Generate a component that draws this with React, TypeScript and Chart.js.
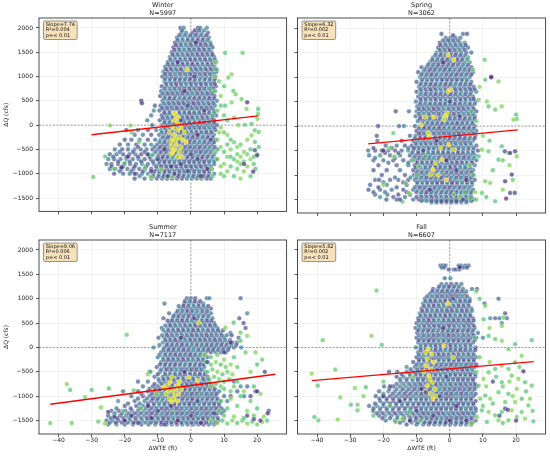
import { useEffect, useRef } from 'react';
import Chart from 'chart.js/auto';

type Row = [number, number[]];
type Pt = [number, number];

// shared axes
const xTicks = [-40, -30, -20, -10, 0, 10, 20];
const yTicks = [-1500, -1000, -500, 0, 500, 1000, 1500, 2000];
const xRange: Pt = [-45.9, 28.9];
const yRange: Pt = [-1775, 2205];

// per-season summary
const seasons = ['Winter', 'Spring', 'Summer', 'Fall'];
const counts = [5997, 3062, 7117, 6607];
const slopes = [7.74, 6.32, 9.06, 5.82];
const intercepts = [35, -210, -780, -437];
const rSquared = ['0.004', '0.002', '0.006', '0.002'];
const pLabels = ['< 0.01', '< 0.01', '< 0.01', '< 0.01'];
const fitSpans: Pt[] = [[-30, 20.3], [-24.6, 20.5], [-42.5, 25.5], [-41.6, 25.3]];

// rows of the dense cloud: [ΔQ, ΔWTE values]
const winterBlue: Row[] = [
  [2000, [-3.2, -2.2, 2.1, 2.8, 4.8]],
  [1900, [-2.9, -1.5, 0.5, 1.8, 3.3, 5.1]],
  [1800, [-4.2, -2.6, -0.9, 0.6, 2.2, 3.8, 5.4]],
  [1700, [-4.8, -3.3, -1.8, -0.3, 1.2, 2.7, 4.2, 5.8]],
  [1600, [-5.3, -3.8, -2.3, -0.8, 0.7, 2.2, 3.7, 5.2, 6.5]],
  [1500, [-5.8, -4.3, -2.8, -1.3, 0.2, 1.7, 3.2, 4.7, 6.2]],
  [1400, [-6.4, -4.9, -3.4, -1.9, -0.4, 1.1, 2.6, 4.1, 5.6, 7]],
  [1300, [-7, -5.6, -4.1, -2.6, -1.1, 0.4, 1.9, 3.4, 4.9, 6.3, 7.6]],
  [1200, [-7.8, -6.3, -4.8, -3.3, -1.8, -0.3, 1.2, 2.7, 4.2, 5.7, 7.1]],
  [1100, [-8.3, -7, -5.5, -4, -2.5, -1, 0.5, 2, 3.5, 5, 6.4, 7.7]],
  [1000, [-8.6, -7.2, -5.8, -4.3, -2.8, -1.3, 0.2, 1.7, 3.2, 4.7, 6.2, 7.4]],
  [900, [-8, -6.5, -5, -3.5, -2, -0.5, 1, 2.5, 4, 5.5, 6.9]],
  [800, [-8.8, -7.3, -5.8, -4.3, -2.8, -1.3, 0.2, 1.7, 3.2, 4.7, 6.2, 7.5]],
  [700, [-9, -7.5, -6, -4.5, -3, -1.5, 0, 1.5, 3, 4.5, 6, 7.3]],
  [600, [-9.3, -7.8, -6.3, -4.8, -3.3, -1.8, -0.3, 1.2, 2.7, 4.2, 5.7, 7.1]],
  [500, [-8.6, -7.1, -5.6, -4.1, -2.6, -1.1, 0.4, 1.9, 3.4, 4.9, 6.4, 7.8]],
  [400, [-10.9, -9.2, -7.7, -6.2, -4.7, -3.2, -1.7, -0.2, 1.3, 2.8, 4.3, 5.8, 7.2]],
  [300, [-11.2, -9.5, -8, -6.5, -5, -3.5, -2, -0.5, 1, 2.5, 4, 5.5, 7]],
  [200, [-12, -8.8, -7.3, -5.8, -4.3, -2.8, -1.3, 0.2, 1.7, 3.2, 4.7, 6.2, 7.6]],
  [100, [-13.2, -9.4, -7.9, -6.4, -4.9, -3.4, -1.9, -0.4, 1.1, 2.6, 4.1, 5.6, 7]],
  [0, [-11.7, -8.7, -7.2, -5.7, -4.2, -2.7, -1.2, 0.3, 1.8, 3.3, 4.8, 6.3, 7.8]],
  [-100, [-19.5, -16, -13, -10.5, -9, -7.5, -6, -4.5, -3, -1.5, 0, 1.5, 3, 4.5, 6, 7.4]],
  [-200, [-17, -14.5, -12, -9.6, -8.1, -6.6, -5.1, -3.6, -2.1, -0.6, 0.9, 2.4, 3.9, 5.4, 6.9]],
  [-300, [-20, -18, -15.5, -13, -10.8, -9.2, -7.7, -6.2, -4.7, -3.2, -1.7, -0.2, 1.3, 2.8, 4.3, 5.8, 7.3]],
  [-400, [-21.5, -19, -16.5, -14, -12, -10.2, -8.6, -7.1, -5.6, -4.1, -2.6, -1.1, 0.4, 1.9, 3.4, 4.9, 6.4]],
  [-500, [-23, -20.8, -19, -17, -15.2, -13.4, -11.6, -9.9, -8.3, -6.8, -5.3, -3.8, -2.3, -0.8, 0.7, 2.2, 3.7, 5.2, 6.7, 8]],
  [-600, [-24.5, -22.5, -20.5, -18.6, -16.8, -15, -13.2, -11.4, -9.6, -8, -6.5, -5, -3.5, -2, -0.5, 1, 2.5, 4, 5.5, 7]],
  [-700, [-25, -23.2, -21.3, -19.5, -17.6, -15.8, -14, -12.2, -10.4, -8.8, -7.3, -5.8, -4.3, -2.8, -1.3, 0.2, 1.7, 3.2, 4.7, 6.2, 7.6]],
  [-800, [-25.5, -24, -22, -20.2, -18.4, -16.6, -14.8, -13, -11.2, -9.6, -8, -6.5, -5, -3.5, -2, -0.5, 1, 2.5, 4, 5.5, 7]],
  [-900, [-24.5, -22.8, -21, -19.2, -17.4, -15.6, -13.8, -12, -10.3, -8.7, -7.2, -5.7, -4.2, -2.7, -1.2, 0.3, 1.8, 3.3, 4.8, 6.3]],
  [-1000, [-23.2, -20.5, -18.5, -16.5, -14.8, -13, -11.3, -9.6, -8, -6.5, -5, -3.5, -2, -0.5, 1, 2.5, 4, 5.5, 7]],
  [-1100, [-17, -14, -12, -10.3, -8.7, -7.2, -5.7, -4.2, -2.7, -1.2, 0.3, 1.8, 3.3, 4.8, 6]],
];
const winterFill: Row[] = [
  [1950, [-2.7, 1.2, 2.5, 4]],
  [1850, [-3.5, -1.8, -0.2, 1.4, 3, 4.6]],
  [1750, [-4, -2.5, -1, 0.5, 2, 3.5, 5]],
  [1650, [-4.5, -3, -1.5, 0, 1.5, 3, 4.5, 6]],
  [1550, [-5, -3.5, -2, -0.5, 1, 2.5, 4, 5.5]],
  [1450, [-5.5, -4, -2.5, -1, 0.5, 2, 3.5, 5, 6.5]],
  [1350, [-6.2, -4.7, -3.2, -1.7, -0.2, 1.3, 2.8, 4.3, 5.8, 7.2]],
  [1250, [-7, -5.5, -4, -2.5, -1, 0.5, 2, 3.5, 5, 6.5]],
  [1150, [-7.5, -6, -4.5, -3, -1.5, 0, 1.5, 3, 4.5, 6, 7.3]],
  [1050, [-7.8, -6.3, -4.8, -3.3, -1.8, -0.3, 1.2, 2.7, 4.2, 5.7, 7]],
  [950, [-7.8, -6.3, -4.8, -3.3, -1.8, -0.3, 1.2, 2.7, 4.2, 5.7, 7.2]],
  [850, [-7.5, -6, -4.5, -3, -1.5, 0, 1.5, 3, 4.5, 6, 7.2]],
  [750, [-8, -6.5, -5, -3.5, -2, -0.5, 1, 2.5, 4, 5.5, 6.8]],
  [650, [-8.5, -7, -5.5, -4, -2.5, -1, 0.5, 2, 3.5, 5, 6.5]],
  [550, [-8, -6.5, -5, -3.5, -2, -0.5, 1, 2.5, 4, 5.5, 7]],
  [450, [-8.2, -6.7, -5.2, -3.7, -2.2, -0.7, 0.8, 2.3, 3.8, 5.3, 6.8]],
  [350, [-8.7, -7.2, -5.7, -4.2, -2.7, -1.2, 0.3, 1.8, 3.3, 4.8, 6.3]],
  [250, [-8, -6.5, -5, -3.5, -2, -0.5, 1, 2.5, 4, 5.5, 7]],
  [150, [-8.5, -7, -5.5, -4, -2.5, -1, 0.5, 2, 3.5, 5, 6.5]],
  [50, [-8, -6.5, -5, -3.5, -2, -0.5, 1, 2.5, 4, 5.5, 7]],
  [-50, [-8, -6.5, -5, -3.5, -2, -0.5, 1, 2.5, 4, 5.5, 7]],
  [-150, [-8.8, -7.3, -5.8, -4.3, -2.8, -1.3, 0.2, 1.7, 3.2, 4.7, 6.2]],
  [-250, [-8.5, -7, -5.5, -4, -2.5, -1, 0.5, 2, 3.5, 5, 6.5]],
  [-350, [-9.5, -8, -6.5, -5, -3.5, -2, -0.5, 1, 2.5, 4, 5.5, 7]],
  [-450, [-16, -11, -9.3, -7.8, -6.3, -4.8, -3.3, -1.8, -0.3, 1.2, 2.7, 4.2, 5.7, 7.2]],
  [-550, [-21.5, -17.5, -14, -10.7, -9, -7.5, -6, -4.5, -3, -1.5, 0, 1.5, 3, 4.5, 6]],
  [-650, [-23.5, -19.5, -16, -12.5, -10, -8.5, -7, -5.5, -4, -2.5, -1, 0.5, 2, 3.5, 5, 6.5]],
  [-750, [-22, -18.5, -15, -11.5, -9.5, -8, -6.5, -5, -3.5, -2, -0.5, 1, 2.5, 4, 5.5, 7]],
  [-850, [-24, -20.5, -17, -13.5, -10.5, -9, -7.5, -6, -4.5, -3, -1.5, 0, 1.5, 3, 4.5, 6]],
  [-950, [-21.5, -18, -14.5, -11, -9.5, -8, -6.5, -5, -3.5, -2, -0.5, 1, 2.5, 4, 5.5]],
  [-1050, [-15.5, -11.5, -9.8, -8.3, -6.8, -5.3, -3.8, -2.3, -0.8, 0.7, 2.2, 3.7, 5.2]],
];
const winterDark: Pt[] = [
  [-15, 500], [-14.8, 450], [17, 470], [19.3, -516], [18.8, -957], [20, -620], [-21, -870], [-17, -1000],
  [-12, -950], [-5, -1000], [-3, -800], [2, -700], [-6, -850], [-10, -700], [3, -1050], [-1, -950],
  [5, -900], [1, 1000], [-2, 700], [4, 300], [-4, 1300], [0, -600], [-8, -500], [6, -300], [16, -800],
  [-7, -1050], [-19, -650], [-13, -600], [1.5, 1700], [-1, 400], [2, -200], [-3, 100],
];
const winterGreen: Pt[] = [
  [-29.5, -1066], [-24.4, -7], [-25.9, -645], [-23.2, -903], [-18.2, -7], [-17.9, -150], [-15.7, -346],
  [-12.2, -1059], [-11.7, -618], [-7.2, -1046], [-5.7, -1059], [-20, -780], [-14, -880], [-9, -920],
  [10.3, 1487], [15.6, 1487], [7.3, 1283], [7.8, 1147], [11.3, 978], [12.3, 1045], [12.8, 706], [13.5, 638],
  [12.3, 468], [10.3, 400], [15.3, 536], [16.8, 333], [20.3, 333], [20.3, 230], [20.1, 129], [18.3, 27],
  [16.3, 7], [14.3, 0], [19.3, -109], [20.5, -143], [18.3, -210], [19.3, -346],
  [8, -300], [9, -450], [10, -550], [11, -650], [12, -500], [13, -700], [14, -600], [15, -650], [16, -750],
  [17, -600], [18, -700], [19, -650], [20, -600], [10, -800], [12, -850], [14, -900], [16, -950], [18, -1050],
  [9, -1000], [11, -950], [13, -1050], [15, -800], [17, -850], [19, -800], [8, -700], [9, -850], [11, -400],
  [13, -350], [14, -450], [12, -300], [10, -150], [9, -50], [11, 100], [8, 300], [9, 600], [10, 800],
  [8.5, 900], [7, 1000], [9, 400], [10, 200], [16, -550], [18, -500], [15, -400], [17, -300], [12, -650],
  [10, -1050], [14, -750], [19.5, -900], [7.5, -550], [8.5, -150], [6.5, 200], [7, 700], [6, -900],
  [6.5, -1050], [3, -1100], [15, -1100], [20.5, -450], [13, 150], [11, -200],
];
const winterYellow: Pt[] = [
  [-5, 250], [-4.5, 200], [-5, 100], [-4, 50], [-5.5, -50], [-4, -100], [-5, -200], [-3.5, -250],
  [-5.5, -300], [-6, -350], [-4.5, -400], [-3, -450], [-5, -500], [-6, -600], [-2.5, -300], [-2, -150],
  [-3, -50], [-4, -650], [-5.5, -550], [-3.5, -550], [-1.5, -350], [-6.5, -150], [-1.2, 1147],
  [-4.5, -300], [-3.8, 150], [-6, -450], [-2.8, -650],
];

const springBlue: Row[] = [
  [1880, [-2.5, 4, 5.2]],
  [1800, [-1.2, 0.2, 1.7, 3.2]],
  [1700, [-3, -1.5, 0, 1.5, 3, 4.5]],
  [1600, [-3.5, -2, -0.5, 1, 2.5, 4, 5.5]],
  [1500, [-4, -2.5, -1, 0.5, 2, 3.5, 5, 6.5]],
  [1400, [-5, -3.5, -2, -0.5, 1, 2.5, 4, 5.5]],
  [1300, [-6, -4.5, -3, -1.5, 0, 1.5, 3, 4.5, 6]],
  [1200, [-8.5, -7, -5.5, -4, -2.5, -1, 0.5, 2, 3.5, 5, 6.5]],
  [1100, [-9.5, -8, -6.5, -5, -3.5, -2, -0.5, 1, 2.5, 4, 5.5, 7]],
  [1000, [-9, -7.5, -6, -4.5, -3, -1.5, 0, 1.5, 3, 4.5, 6, 12.5]],
  [900, [-10, -8.5, -7, -5.5, -4, -2.5, -1, 0.5, 2, 3.5, 5, 6.5]],
  [800, [-9.3, -7.8, -6.3, -4.8, -3.3, -1.8, -0.3, 1.2, 2.7, 4.2, 5.7, 7.2]],
  [700, [-10, -8.5, -7, -5.5, -4, -2.5, -1, 0.5, 2, 3.5, 5, 6.5, 8]],
  [600, [-9.5, -8, -6.5, -5, -3.5, -2, -0.5, 1, 2.5, 4, 5.5, 7]],
  [500, [-10.2, -8.7, -7.2, -5.7, -4.2, -2.7, -1.2, 0.3, 1.8, 3.3, 4.8, 6.3, 7.8]],
  [400, [-9.8, -8.3, -6.8, -5.3, -3.8, -2.3, -0.8, 0.7, 2.2, 3.7, 5.2, 6.7]],
  [300, [-16.3, -12.3, -10, -8.5, -7, -5.5, -4, -2.5, -1, 0.5, 2, 3.5, 5, 6.5, 8]],
  [200, [-10.3, -8.8, -7.3, -5.8, -4.3, -2.8, -1.3, 0.2, 1.7, 3.2, 4.7, 6.2, 7.5]],
  [100, [-9.6, -8.1, -6.6, -5.1, -3.6, -2.1, -0.6, 0.9, 2.4, 3.9, 5.4, 6.9]],
  [0, [-21.6, -15.3, -13.8, -10.5, -9, -7.5, -6, -4.5, -3, -1.5, 0, 1.5, 3, 4.5, 6, 7.5]],
  [-100, [-10, -8.5, -7, -5.5, -4, -2.5, -1, 0.5, 2, 3.5, 5, 6.5, 8]],
  [-200, [-22, -12, -10.3, -8.8, -7.3, -5.8, -4.3, -2.8, -1.3, 0.2, 1.7, 3.2, 4.7, 6.2, 7.7]],
  [-300, [-21.8, -14.5, -11, -9.5, -8, -6.5, -5, -3.5, -2, -0.5, 1, 2.5, 4, 5.5, 7]],
  [-400, [-19.3, -16, -13.5, -11.5, -10, -8.5, -7, -5.5, -4, -2.5, -1, 0.5, 2, 3.5, 5, 6.5, 8]],
  [-500, [-24.6, -22.5, -20.5, -18.5, -16.5, -14.5, -12.5, -11, -9.5, -8, -6.5, -5, -3.5, -2, -0.5, 1, 2.5, 4, 5.5, 7, 8.5]],
  [-600, [-24.3, -21, -18, -15, -12, -10.3, -8.8, -7.3, -5.8, -4.3, -2.8, -1.3, 0.2, 1.7, 3.2, 4.7, 6.2, 7.7]],
  [-700, [-23, -20, -17, -14, -11.5, -10, -8.5, -7, -5.5, -4, -2.5, -1, 0.5, 2, 3.5, 5, 6.5, 8]],
  [-800, [-21.5, -16, -12.5, -10.5, -9, -7.5, -6, -4.5, -3, -1.5, 0, 1.5, 3, 4.5, 6, 7.5]],
  [-900, [-23, -19, -15, -11, -9.5, -8, -6.5, -5, -3.5, -2, -0.5, 1, 2.5, 4, 5.5, 7]],
  [-1000, [-20.5, -13.5, -10.8, -9.3, -7.8, -6.3, -4.8, -3.3, -1.8, -0.3, 1.2, 2.7, 4.2, 5.7, 7.2]],
  [-1100, [-22.5, -21.3, -18, -15.5, -12.5, -10.5, -9, -7.5, -6, -4.5, -3, -1.5, 0, 1.5, 3, 4.5, 6, 7.5]],
  [-1200, [-24, -19, -13, -9.8, -8.3, -6.8, -5.3, -3.8, -2.3, -0.8, 0.7, 2.2, 3.7, 5.2, 6.7]],
  [-1300, [-24.5, -21, -17.5, -14, -11, -9.5, -8, -6.5, -5, -3.5, -2, -0.5, 1, 2.5, 4, 5.5, 7]],
  [-1400, [-22.5, -18.8, -15.5, -12, -8.8, -7.3, -5.8, -4.3, -2.8, -1.3, 0.2, 1.7, 3.2, 4.7, 6.2]],
  [-1500, [-19.1, -16, -11, -9.3, -7.8, -6.3, -4.8, -3.3, -1.8, -0.3, 1.2, 2.7, 4.2, 5.7, 7.2]],
  [-1560, [-5.5, -4, -2.5, -1, 0.5, 2, 3.5, 5]],
];
const springFill: Row[] = [
  [1750, [-2, -0.5, 1, 2.5]],
  [1650, [-2.8, -1.2, 0.3, 1.8, 3.3, 4.8]],
  [1550, [-3, -1.5, 0, 1.5, 3, 4.5]],
  [1450, [-4.3, -2.8, -1.3, 0.2, 1.7, 3.2, 4.7]],
  [1350, [-5.3, -3.8, -2.3, -0.8, 0.7, 2.2, 3.7, 5.2]],
  [1250, [-6.5, -5, -3.5, -2, -0.5, 1, 2.5, 4, 5.5]],
  [1150, [-7.5, -6, -4.5, -3, -1.5, 0, 1.5, 3, 4.5, 6]],
  [1050, [-8.5, -7, -5.5, -4, -2.5, -1, 0.5, 2, 3.5, 5, 6.5]],
  [950, [-8.3, -6.8, -5.3, -3.8, -2.3, -0.8, 0.7, 2.2, 3.7, 5.2]],
  [850, [-8.8, -7.3, -5.8, -4.3, -2.8, -1.3, 0.2, 1.7, 3.2, 4.7, 6.2]],
  [750, [-8.8, -7.3, -5.8, -4.3, -2.8, -1.3, 0.2, 1.7, 3.2, 4.7, 6.2, 7.5]],
  [650, [-8.8, -7.3, -5.8, -4.3, -2.8, -1.3, 0.2, 1.7, 3.2, 4.7, 6.2]],
  [550, [-8.8, -7.3, -5.8, -4.3, -2.8, -1.3, 0.2, 1.7, 3.2, 4.7, 6.2, 7.2]],
  [450, [-9, -7.5, -6, -4.5, -3, -1.5, 0, 1.5, 3, 4.5, 6, 7.5]],
  [350, [-9.3, -7.8, -6.3, -4.8, -3.3, -1.8, -0.3, 1.2, 2.7, 4.2, 5.7, 7.2]],
  [250, [-9.3, -7.8, -6.3, -4.8, -3.3, -1.8, -0.3, 1.2, 2.7, 4.2, 5.7, 7]],
  [150, [-9, -7.5, -6, -4.5, -3, -1.5, 0, 1.5, 3, 4.5, 6, 7.5]],
  [50, [-8.3, -6.8, -5.3, -3.8, -2.3, -0.8, 0.7, 2.2, 3.7, 5.2, 6.8]],
  [-50, [-9.3, -7.8, -6.3, -4.8, -3.3, -1.8, -0.3, 1.2, 2.7, 4.2, 5.7, 7.2]],
  [-150, [-9.3, -7.8, -6.3, -4.8, -3.3, -1.8, -0.3, 1.2, 2.7, 4.2, 5.7, 7.2]],
  [-250, [-10.5, -9, -7.5, -6, -4.5, -3, -1.5, 0, 1.5, 3, 4.5, 6, 7.5]],
  [-350, [-10.3, -8.8, -7.3, -5.8, -4.3, -2.8, -1.3, 0.2, 1.7, 3.2, 4.7, 6.2]],
  [-450, [-23, -17.5, -12.5, -10.8, -9.3, -7.8, -6.3, -4.8, -3.3, -1.8, -0.3, 1.2, 2.7, 4.2, 5.7, 7.2]],
  [-550, [-19.5, -15.5, -11.3, -9.5, -8, -6.5, -5, -3.5, -2, -0.5, 1, 2.5, 4, 5.5, 7]],
  [-650, [-22.5, -16.5, -10.8, -9.3, -7.8, -6.3, -4.8, -3.3, -1.8, -0.3, 1.2, 2.7, 4.2, 5.7, 7.2]],
  [-750, [-18.5, -12.5, -9.8, -8.3, -6.8, -5.3, -3.8, -2.3, -0.8, 0.7, 2.2, 3.7, 5.2, 6.7]],
  [-850, [-10.3, -8.8, -7.3, -5.8, -4.3, -2.8, -1.3, 0.2, 1.7, 3.2, 4.7, 6.2]],
  [-950, [-10, -8.5, -7, -5.5, -4, -2.5, -1, 0.5, 2, 3.5, 5, 6.5]],
  [-1050, [-16.5, -11.8, -10, -8.5, -7, -5.5, -4, -2.5, -1, 0.5, 2, 3.5, 5, 6.5]],
  [-1150, [-20, -14, -9.8, -8.3, -6.8, -5.3, -3.8, -2.3, -0.8, 0.7, 2.2, 3.7, 5.2, 6.7]],
  [-1250, [-21.5, -16, -10.5, -9, -7.5, -6, -4.5, -3, -1.5, 0, 1.5, 3, 4.5, 6]],
  [-1350, [-23, -19.5, -13, -10, -8.5, -7, -5.5, -4, -2.5, -1, 0.5, 2, 3.5, 5, 6.5]],
  [-1450, [-21, -17, -13.5, -10, -8.5, -7, -5.5, -4, -2.5, -1, 0.5, 2, 3.5, 5, 6.5]],
  [-1530, [-8.5, -7, -5.5, -4, -2.5, -1, 0.5, 2, 3.5, 5, 6.5]],
];
const springDark: Pt[] = [
  [12.5, 998], [16.6, -516], [18.2, -550], [19.7, -516], [16.7, -1127], [18.2, -1365], [18.7, -991],
  [19.6, -1365], [17, -1480], [1, 1850], [-2, 1300], [0, 500], [-4, -300], [2, -900], [-6, -1300],
  [4, -1500], [-1, -700], [3, 200], [-20, -500], [-15, -1500], [5, -1100], [-8, -500],
];
const springGreen: Pt[] = [
  [10.5, 1351], [14.7, 910], [10.7, 944], [8.7, 536], [11.2, 502], [11.7, 400], [13.7, 333], [15.7, 400],
  [20, 231], [20.2, 143], [19.2, 129], [15.7, -414], [17.7, -550], [20.2, -618], [14.7, -686], [11.7, -516],
  [9.7, -482], [8.7, -618], [10.7, -1127], [12.2, -1161], [13.7, -1535], [9.7, -1365], [7.7, -1351],
  [6.2, -1467], [1.2, -1399], [3, -1450], [4.5, -1350], [-17, -143], [-18.3, -448], [-14.3, -1541],
  [-13.3, -1161], [-12.3, -1365], [-7.3, -618], [-9.3, -822], [-16.8, -618], [5.3, 1365], [7, 1150],
  [9, 800], [6.5, 300], [8, 100], [10, -200], [12, -300], [16, -700], [18, -800], [13, -900], [19, -1100],
  [16, -1300], [11, -1450], [8, -1500], [-20, -1200], [-10, -1000], [-11, -700], [6, -800], [7, -1000],
];
const springYellow: Pt[] = [
  [1.2, 1351], [-0.5, 706], [-1.3, 217], [-1.8, 129], [-4.8, 183], [-7.5, 183], [-8.6, 27], [-6.5, -143],
  [-6.1, -210], [-2.8, -448], [-2.3, -686], [-4.3, -754], [-5.1, -890], [-5.7, -991], [-0.3, -380],
  [1.3, -482], [0.2, 740], [-0.8, 265], [-0.5, 1450], [-3.5, -1000], [-1, -1100],
];

const summerBlue: Row[] = [
  [1010, [-1.2, 0, 1.3, 4.8, 5.6, 15]],
  [900, [-8, -2, -0.6, 0.8, 2.3, 3.7]],
  [800, [-3, -1.5, 0, 1.5, 3, 4.5, 6]],
  [700, [-6.6, -4.5, -3, -1.5, 0, 1.5, 3, 4.5, 6, 17]],
  [600, [-8.3, -5.5, -4, -2.5, -1, 0.5, 2, 3.5, 5, 6.5, 14.6]],
  [500, [-6.5, -5, -3.5, -2, -0.5, 1, 2.5, 4, 5.5, 7, 15.9]],
  [400, [-8.8, -7, -5.5, -4, -2.5, -1, 0.5, 2, 3.5, 5, 6.5, 8, 16.5]],
  [300, [-7.5, -6, -4.5, -3, -1.5, 0, 1.5, 3, 4.5, 6, 7.5, 9, 11.9]],
  [200, [-9.8, -8, -6.5, -5, -3.5, -2, -0.5, 1, 2.5, 4, 5.5, 7, 8.5, 10, 14.4]],
  [100, [-8.5, -7, -5.5, -4, -2.5, -1, 0.5, 2, 3.5, 5, 6.5, 8, 9.5, 11, 12.5, 13.9]],
  [0, [-11.3, -8, -6.5, -5, -3.5, -2, -0.5, 1, 2.5, 4, 5.5, 7, 8.5, 10, 11.5, 13, 15.2]],
  [-100, [-9, -7.5, -6, -4.5, -3, -1.5, 0, 1.5, 3, 4.5, 6, 7.5, 9, 10.5]],
  [-200, [-10, -8.5, -7, -5.5, -4, -2.5, -1, 0.5, 2, 3.5, 5]],
  [-300, [-9, -7.5, -6, -4.5, -3, -1.5, 0, 1.5, 3, 4.5]],
  [-400, [-10.3, -8, -6.5, -5, -3.5, -2, -0.5, 1, 2.5, 4]],
  [-500, [-12.5, -9.3, -7.8, -6.3, -4.8, -3.3, -1.8, -0.3, 1.2, 2.7, 4.2]],
  [-600, [-11, -8.5, -7, -5.5, -4, -2.5, -1, 0.5, 2, 3.5, 5]],
  [-700, [-16, -13, -9.5, -8, -6.5, -5, -3.5, -2, -0.5, 1, 2.5, 4, 5.5, 13]],
  [-800, [-14.5, -11.5, -10, -8.5, -7, -5.5, -4, -2.5, -1, 0.5, 2, 3.5, 5, 6.5, 15, 17]],
  [-900, [-20.5, -16, -13, -11, -9.5, -8, -6.5, -5, -3.5, -2, -0.5, 1, 2.5, 4, 5.5, 7, 8.5, 14, 19.5]],
  [-1000, [-18, -14.5, -12.5, -10.8, -9.3, -7.8, -6.3, -4.8, -3.3, -1.8, -0.3, 1.2, 2.7, 4.2, 5.7, 7.2, 10, 12, 16]],
  [-1100, [-22, -17, -14, -12, -10.3, -8.8, -7.3, -5.8, -4.3, -2.8, -1.3, 0.2, 1.7, 3.2, 4.7, 6.2, 7.7, 9, 11]],
  [-1200, [-20, -16.5, -14.5, -12.8, -11.2, -9.6, -8, -6.5, -5, -3.5, -2, -0.5, 1, 2.5, 4, 5.5, 7, 8.5]],
  [-1300, [-24, -21.8, -19.8, -17.8, -16, -14.3, -12.6, -11, -9.4, -7.9, -6.4, -4.9, -3.4, -1.9, -0.4, 1.1, 2.6, 4.1, 5.6, 7.1, 8.6, 10, 23.5]],
  [-1400, [-25, -23.2, -21.3, -19.5, -17.7, -15.9, -14.1, -12.4, -10.7, -9.1, -7.6, -6.1, -4.6, -3.1, -1.6, -0.1, 1.4, 2.9, 4.4, 5.9, 7.4]],
  [-1500, [-25.5, -23.7, -21.9, -20.1, -18.3, -16.5, -14.7, -13, -11.3, -9.7, -8.2, -6.7, -5.2, -3.7, -2.2, -0.7, 0.8, 2.3, 3.8, 5.3, 6.8, 8.3]],
  [-1580, [-25, -22.5, -20, -17.5, -15, -12.8, -10.8, -9, -7.4, -5.8, -4.2, -2.6, -1, 0.6, 2.2, 3.8, 5.4, 7]],
];
const summerFill: Row[] = [
  [950, [-1.8, -0.3, 1.2, 2.8]],
  [850, [-3.7, -2.3, -0.8, 0.8, 2.3, 3.8, 5.2]],
  [750, [-4, -2.5, -1, 0.5, 2, 3.5, 5]],
  [650, [-5.2, -3.7, -2.2, -0.7, 0.8, 2.3, 3.8, 5.3]],
  [550, [-7, -5.7, -4.2, -2.7, -1.2, 0.3, 1.8, 3.3, 4.8, 6.2]],
  [450, [-7.7, -6.2, -4.7, -3.2, -1.7, -0.2, 1.3, 2.8, 4.3, 5.8, 7.3]],
  [350, [-8.3, -6.8, -5.3, -3.8, -2.3, -0.8, 0.7, 2.2, 3.7, 5.2, 6.7, 8.2, 9.7]],
  [250, [-8.7, -7.2, -5.7, -4.2, -2.7, -1.2, 0.3, 1.8, 3.3, 4.8, 6.3, 7.8, 9.3, 10.8, 12.3]],
  [150, [-7.7, -6.2, -4.7, -3.2, -1.7, -0.2, 1.3, 2.8, 4.3, 5.8, 7.3, 8.8, 10.3, 11.8]],
  [50, [-9.5, -7.3, -5.8, -4.3, -2.8, -1.3, 0.2, 1.7, 3.2, 4.7, 6.2, 7.7, 9.2, 10.7, 12.2, 13.7]],
  [-50, [-8.3, -6.8, -5.3, -3.8, -2.3, -0.8, 0.7, 2.2, 3.7, 5.2, 6.7, 8.2, 9.7, 11.2]],
  [-150, [-9.5, -7.8, -6.3, -4.8, -3.3, -1.8, -0.3, 1.2, 2.7, 4.2]],
  [-250, [-8.3, -6.8, -5.3, -3.8, -2.3, -0.8, 0.7, 2.2, 3.7]],
  [-350, [-9.3, -7.8, -6.3, -4.8, -3.3, -1.8, -0.3, 1.2, 2.7, 3.8]],
  [-450, [-9, -7.3, -5.8, -4.3, -2.8, -1.3, 0.2, 1.7, 3.2]],
  [-550, [-10, -7.8, -6.3, -4.8, -3.3, -1.8, -0.3, 1.2, 2.7, 4.2]],
  [-650, [-9.8, -8.3, -6.8, -5.3, -3.8, -2.3, -0.8, 0.7, 2.2, 3.7, 5]],
  [-750, [-11, -8.8, -7.3, -5.8, -4.3, -2.8, -1.3, 0.2, 1.7, 3.2, 4.7, 6]],
  [-850, [-12.5, -10.8, -9.3, -7.8, -6.3, -4.8, -3.3, -1.8, -0.3, 1.2, 2.7, 4.2, 5.7, 7.2]],
  [-950, [-15, -11.8, -10.2, -8.7, -7.2, -5.7, -4.2, -2.7, -1.2, 0.3, 1.8, 3.3, 4.8, 6.3, 7.8]],
  [-1050, [-16, -13.3, -11.5, -10, -8.5, -7, -5.5, -4, -2.5, -1, 0.5, 2, 3.5, 5, 6.5, 8]],
  [-1150, [-19, -15.5, -13, -11.2, -9.6, -8, -6.5, -5, -3.5, -2, -0.5, 1, 2.5, 4, 5.5, 7, 8.5]],
  [-1250, [-22.5, -18.2, -15.5, -13.6, -12, -10.4, -8.8, -7.3, -5.8, -4.3, -2.8, -1.3, 0.2, 1.7, 3.2, 4.7, 6.2, 7.7, 9.2]],
  [-1350, [-23, -20.8, -18.8, -16.9, -15.1, -13.4, -11.8, -10.2, -8.6, -7.1, -5.6, -4.1, -2.6, -1.1, 0.4, 1.9, 3.4, 4.9, 6.4, 7.9, 9.3]],
  [-1450, [-24.2, -22.3, -20.4, -18.6, -16.8, -15, -13.3, -11.6, -10, -8.4, -6.9, -5.4, -3.9, -2.4, -0.9, 0.6, 2.1, 3.6, 5.1, 6.6, 8.1]],
  [-1540, [-24.5, -22.7, -20.9, -19.1, -17.3, -15.5, -13.8, -12.1, -10.5, -8.9, -7.4, -5.9, -4.4, -2.9, -1.4, 0.1, 1.6, 3.1, 4.6, 6.1, 7.6]],
];
const summerDark: Pt[] = [
  [-25, -1324], [-23.1, -1426], [-20, -1500], [-16, -1550], [-12, -1450], [-8, -1580], [-4, -1500],
  [0, -1400], [3, -1550], [-10, -1300], [-18, -1400], [22.3, -500], [23.2, -1350], [18, -1000], [20, -900],
  [19, -1470], [21, -1500], [17, -1400], [-6, -1200], [2, -1100], [-2, -500], [5, -300], [-3, 200], [1, 600],
  [-13, -1200], [7, -1350], [12, 100], [10, -100],
];
const summerGreen: Pt[] = [
  [-42.5, -1550], [-37.5, -750], [-36.5, -870], [-36, -1550], [-32, -1020], [-30, -870], [-28, -1520],
  [-27.2, -1230], [-24.8, -840], [-19.4, 260], [-13, -550], [-12.2, -500], [-17.3, -880], [-26, -1560],
  [-20.5, -1300], [-15, -1250], [-10.5, -950],
  [4.5, -300], [6, -350], [7.5, -300], [9, -350], [10.5, -400], [12, -350], [5, -500], [6.5, -450], [8, -500],
  [9.5, -550], [11, -500], [12.5, -550], [5.5, -650], [7, -600], [8.5, -650], [10, -700], [11.5, -650],
  [6, -800], [7.5, -750], [9, -800], [4, -150], [6, -200], [8, -150], [10, -250], [13, -200], [14, -400],
  [10.4, 407], [12.9, 509], [15, 306], [17, 238], [15, 136], [16.5, -102], [19.5, -102], [20, -350],
  [21.5, -250], [18, -500], [14, -700], [12, -900],
  [8, -1550], [9.5, -1500], [11, -1560], [12.5, -1500], [14, -1550], [15.5, -1500], [17, -1560], [18.5, -1520],
  [20, -1580], [21.5, -1530], [23, -1500], [10, -1400], [13, -1420], [16, -1450], [19, -1400], [22, -1420],
  [11, -1250], [14, -1200], [17, -1300], [20, -1250], [9, -1100], [12, -1050], [15, -1000], [18, -1100],
  [21, -950], [10, -850], [13, -800], [16, -900], [19, -800], [8.5, -1300], [6, -1500],
];
const summerYellow: Pt[] = [
  [-8.3, -815], [-7.3, -781], [-6.3, -713], [-5.8, -611], [-4.7, -849], [-6.6, -1052], [-5.8, -1120],
  [-4.9, -985], [-3.7, -951], [-2.9, -849], [-4.2, -781], [-6.8, -883], [-0.7, -611], [2.3, 509], [2, -679],
  [-5.2, -1050], [-4, -1100], [-7.5, -950], [-3.5, -700], [-5.5, -900],
];

const fallBlue: Row[] = [
  [1680, [-2.8, -2.1, -1.3, 2.7, 3.5, 4.7, 5.7]],
  [1600, [-0.3, 1.2, 1.9, 2.9]],
  [1420, [-1.5, 0.2]],
  [1300, [-2.5, -1, 0.5, 2, 3.5]],
  [1200, [-5, -3.5, -2, -0.5, 1, 2.5, 4, 6.7, 8.2]],
  [1100, [-6, -4.5, -3, -1.5, 0, 1.5, 3, 4.5]],
  [1000, [-7.5, -6, -4.5, -3, -1.5, 0, 1.5, 3, 4.5, 6, 14.7]],
  [900, [-8, -6.5, -5, -3.5, -2, -0.5, 1, 2.5, 4, 5.5, 10.5]],
  [800, [-8.5, -7, -5.5, -4, -2.5, -1, 0.5, 2, 3.5, 5, 6.5]],
  [700, [-9, -7.5, -6, -4.5, -3, -1.5, 0, 1.5, 3, 4.5, 6, 16.7]],
  [600, [-9.5, -8, -6.5, -5, -3.5, -2, -0.5, 1, 2.5, 4, 5.5, 7, 12.2, 13.7, 15, 17.2]],
  [500, [-10, -8.5, -7, -5.5, -4, -2.5, -1, 0.5, 2, 3.5, 5, 6.5, 15.7]],
  [400, [-10.3, -9, -7.5, -6, -4.5, -3, -1.5, 0, 1.5, 3, 4.5, 6, 7.5]],
  [300, [-9.8, -8.3, -6.8, -5.3, -3.8, -2.3, -0.8, 0.7, 2.2, 3.7, 5.2, 6.7, 8.5]],
  [200, [-10, -8.5, -7, -5.5, -4, -2.5, -1, 0.5, 2, 3.5, 5, 6.5, 8, 10]],
  [100, [-9.5, -8, -6.5, -5, -3.5, -2, -0.5, 1, 2.5, 4, 5.5, 7]],
  [0, [-10.2, -8.7, -7.2, -5.7, -4.2, -2.7, -1.2, 0.3, 1.8, 3.3, 4.8, 6.3, 7.8]],
  [-100, [-9.5, -8, -6.5, -5, -3.5, -2, -0.5, 1, 2.5, 4, 5.5, 7]],
  [-200, [-10, -8.5, -7, -5.5, -4, -2.5, -1, 0.5, 2, 3.5, 5, 6.5, 8]],
  [-300, [-11, -9.3, -7.8, -6.3, -4.8, -3.3, -1.8, -0.3, 1.2, 2.7, 4.2, 5.7, 7.2]],
  [-400, [-13, -10.5, -9, -7.5, -6, -4.5, -3, -1.5, 0, 1.5, 3, 4.5, 6, 7.5]],
  [-500, [-18.3, -15.8, -13, -11, -9.5, -8, -6.5, -5, -3.5, -2, -0.5, 1, 2.5, 4, 5.5, 7]],
  [-600, [-16, -14, -12, -10.3, -8.8, -7.3, -5.8, -4.3, -2.8, -1.3, 0.2, 1.7, 3.2, 4.7, 6.2, 7.7]],
  [-700, [-14.8, -13, -11.2, -9.6, -8, -6.5, -5, -3.5, -2, -0.5, 1, 2.5, 4, 5.5, 7]],
  [-800, [-19.8, -17, -15, -13.2, -11.5, -9.9, -8.3, -6.8, -5.3, -3.8, -2.3, -0.8, 0.7, 2.2, 3.7, 5.2, 6.7, 8]],
  [-900, [-21.3, -18.5, -16.5, -14.7, -13, -11.3, -9.7, -8.1, -6.6, -5.1, -3.6, -2.1, -0.6, 0.9, 2.4, 3.9, 5.4, 6.9]],
  [-1000, [-22.3, -20, -18, -16.2, -14.4, -12.7, -11, -9.4, -7.9, -6.4, -4.9, -3.4, -1.9, -0.4, 1.1, 2.6, 4.1, 5.6, 7.1]],
  [-1100, [-21, -19, -17, -15.3, -13.6, -11.9, -10.2, -8.6, -7.1, -5.6, -4.1, -2.6, -1.1, 0.4, 1.9, 3.4, 4.9, 6.4, 7.8]],
  [-1200, [-24.3, -22, -20, -18, -16.2, -14.4, -12.7, -11, -9.4, -7.9, -6.4, -4.9, -3.4, -1.9, -0.4, 1.1, 2.6, 4.1, 5.6, 7.1]],
  [-1300, [-23.1, -21, -19, -17.2, -15.4, -13.6, -11.9, -10.2, -8.6, -7.1, -5.6, -4.1, -2.6, -1.1, 0.4, 1.9, 3.4, 4.9, 6.4, 7.8]],
  [-1400, [-21.3, -19.5, -17.6, -15.8, -14, -12.3, -10.6, -9, -7.5, -6, -4.5, -3, -1.5, 0, 1.5, 3, 4.5, 6, 7.5]],
  [-1500, [-19.3, -16.5, -14, -12, -10.3, -8.7, -7.2, -5.7, -4.2, -2.7, -1.2, 0.3, 1.8, 3.3, 4.8, 6.3, 7.8]],
  [-1580, [-13, -10, -8, -6.3, -4.7, -3.1, -1.5, 0.1, 1.7, 3.3, 4.9, 6.5]],
];
const fallFill: Row[] = [
  [1640, [-2.4, -1.7, 3.1, 4.1, 5.2]],
  [1250, [-3.2, -1.7, -0.2, 1.3, 2.8]],
  [1150, [-5.3, -3.8, -2.3, -0.8, 0.7, 2.2, 3.7, 5]],
  [1050, [-6.8, -5.3, -3.8, -2.3, -0.8, 0.7, 2.2, 3.7, 5.2]],
  [950, [-7.3, -5.8, -4.3, -2.8, -1.3, 0.2, 1.7, 3.2, 4.7, 6]],
  [850, [-7.8, -6.3, -4.8, -3.3, -1.8, -0.3, 1.2, 2.7, 4.2, 5.7]],
  [750, [-8.3, -6.8, -5.3, -3.8, -2.3, -0.8, 0.7, 2.2, 3.7, 5.2, 6.7]],
  [650, [-8.8, -7.3, -5.8, -4.3, -2.8, -1.3, 0.2, 1.7, 3.2, 4.7, 6.2]],
  [550, [-9.3, -7.8, -6.3, -4.8, -3.3, -1.8, -0.3, 1.2, 2.7, 4.2, 5.7, 7.2]],
  [450, [-9.3, -7.8, -6.3, -4.8, -3.3, -1.8, -0.3, 1.2, 2.7, 4.2, 5.7, 7.2]],
  [350, [-9.5, -8, -6.5, -5, -3.5, -2, -0.5, 1, 2.5, 4, 5.5, 7]],
  [250, [-9.3, -7.8, -6.3, -4.8, -3.3, -1.8, -0.3, 1.2, 2.7, 4.2, 5.7, 7.2]],
  [150, [-9.3, -7.8, -6.3, -4.8, -3.3, -1.8, -0.3, 1.2, 2.7, 4.2, 5.7, 7.5]],
  [50, [-8.8, -7.3, -5.8, -4.3, -2.8, -1.3, 0.2, 1.7, 3.2, 4.7, 6.2]],
  [-50, [-8.8, -7.3, -5.8, -4.3, -2.8, -1.3, 0.2, 1.7, 3.2, 4.7, 6.2, 7.7]],
  [-150, [-9.3, -7.8, -6.3, -4.8, -3.3, -1.8, -0.3, 1.2, 2.7, 4.2, 5.7, 7.2]],
  [-250, [-9.3, -7.8, -6.3, -4.8, -3.3, -1.8, -0.3, 1.2, 2.7, 4.2, 5.7, 7.2]],
  [-350, [-10, -8.5, -7, -5.5, -4, -2.5, -1, 0.5, 2, 3.5, 5, 6.5, 8]],
  [-450, [-11.8, -9.8, -8.3, -6.8, -5.3, -3.8, -2.3, -0.8, 0.7, 2.2, 3.7, 5.2, 6.7]],
  [-550, [-14.5, -12, -10.3, -8.8, -7.3, -5.8, -4.3, -2.8, -1.3, 0.2, 1.7, 3.2, 4.7, 6.2, 7.7]],
  [-650, [-15, -13, -11.2, -9.6, -8, -6.5, -5, -3.5, -2, -0.5, 1, 2.5, 4, 5.5, 7]],
  [-750, [-16, -14, -12.2, -10.5, -8.9, -7.3, -5.8, -4.3, -2.8, -1.3, 0.2, 1.7, 3.2, 4.7, 6.2, 7.6]],
  [-850, [-18.2, -16, -14.1, -12.3, -10.6, -9, -7.5, -6, -4.5, -3, -1.5, 0, 1.5, 3, 4.5, 6, 7.5]],
  [-950, [-20, -17.2, -15.3, -13.6, -11.9, -10.2, -8.6, -7.1, -5.6, -4.1, -2.6, -1.1, 0.4, 1.9, 3.4, 4.9, 6.4, 7.8]],
  [-1050, [-21.2, -19, -17.1, -15.3, -13.5, -11.8, -10.2, -8.6, -7.1, -5.6, -4.1, -2.6, -1.1, 0.4, 1.9, 3.4, 4.9, 6.4]],
  [-1150, [-22.5, -20, -18, -16.1, -14.4, -12.7, -11, -9.4, -7.9, -6.4, -4.9, -3.4, -1.9, -0.4, 1.1, 2.6, 4.1, 5.6, 7.1]],
  [-1250, [-23, -21, -19, -17.1, -15.3, -13.5, -11.8, -10.2, -8.6, -7.1, -5.6, -4.1, -2.6, -1.1, 0.4, 1.9, 3.4, 4.9, 6.4, 7.8]],
  [-1350, [-22, -20.2, -18.3, -16.5, -14.7, -12.9, -11.2, -9.6, -8, -6.5, -5, -3.5, -2, -0.5, 1, 2.5, 4, 5.5, 7]],
  [-1450, [-20.3, -18, -15.8, -13.7, -11.8, -10.1, -8.5, -6.9, -5.4, -3.9, -2.4, -0.9, 0.6, 2.1, 3.6, 5.1, 6.6]],
  [-1540, [-15, -11.5, -9.5, -7.6, -6, -4.4, -2.8, -1.2, 0.4, 2, 3.6, 5.2, 6.8]],
];
const fallDark: Pt[] = [
  [22.2, -489], [16.7, -1256], [17.5, -1280], [-7.3, -917], [-8.5, -850], [-3, -1000], [0, -1500],
  [-5, -1400], [2, -1200], [-10, -1300], [-15, -1100], [-20, -1000], [-2, 400], [1, 1000], [3, 1650],
  [-1, -600], [5, -1500], [15, -1400], [20, -1500], [13, -700], [-12, -1500], [-18, -800],
];
const fallGreen: Pt[] = [
  [-22.1, 1168], [-23.6, 238], [-20.5, 54], [-38.3, 149], [-41.6, -536], [-39.8, -781], [-34.5, -455],
  [-33, -1025], [-40.8, -1426], [-39.6, -1494], [-33.8, -1480], [-29.8, -1175], [-27.8, -1175], [-28.6, -835],
  [-25.3, -815], [-16.3, -1528], [-14.3, -1460], [-12.3, -1324], [-27.8, -1290], [-26, -1000], [-18, -1200],
  [-9, -1500], [-11, -600], [-23, -1400], [-20, -700],
  [10.7, 849], [10.2, 577], [16.2, 611], [15.7, 441], [11.7, 238], [13.7, 170], [15.7, 136], [19.7, 68],
  [17.7, -34], [21.7, -170], [19.7, -306], [17.7, -441], [15.7, -373], [13.7, -441], [11.7, -509], [10.2, -645],
  [15.7, -713], [18.7, -577], [20.7, -645], [22.7, -713], [24.7, -781], [20.2, -849], [17.7, -951], [14.7, -917],
  [12.2, -1052], [10.7, -985], [16.7, -1120], [19.7, -1120], [21.7, -1052], [23.7, -1188], [18.7, -1290],
  [15.7, -1324], [13.7, -1392], [11.7, -1324], [9.7, -1290], [20.2, -1426], [22.7, -1460], [25.2, -1514],
  [17.7, -1494], [14.7, -1494], [11.2, -1528], [21.7, -1324], [24.2, -1052], [8.7, -781], [9.2, -1052],
  [8.2, -1426], [24.7, 149], [9, -200], [12, -300], [14, -600], [16, -800], [19, -1000], [13, -1150],
  [10, -1200], [18, -700], [23, -900], [21, -400], [11, -800], [7.5, 200], [8, -500], [6.5, -1550],
  [16, -1550], [25, -1300], [12, 400], [9, 1000], [8, 1150],
];
const fallYellow: Pt[] = [
  [-6.5, -34], [-7.3, -102], [-5.5, -136], [-6.8, -238], [-7.1, -373], [-5.8, -441], [-6.3, -577],
  [-5.3, -713], [-6.8, -781], [-5.8, -951], [-5.1, -1052], [-4.5, -850], [-1.8, 34], [-7.8, -500],
  [-4.8, -300], [-6, -650], [-7.5, -900], [-4.2, -1000], [-0.5, 900], [1, -200],
];

const blueRows = [winterBlue, springBlue, summerBlue, fallBlue];
const fillRows = [winterFill, springFill, summerFill, fallFill];
const darkPts = [winterDark, springDark, summerDark, fallDark];
const greenPts = [winterGreen, springGreen, summerGreen, fallGreen];
const yellowPts = [winterYellow, springYellow, summerYellow, fallYellow];

const FONT = 'DejaVu Sans';
const bluePalette = [
  'rgba(59,82,139,0.68)', 'rgba(49,104,142,0.68)', 'rgba(68,57,131,0.66)', 'rgba(52,96,141,0.68)',
  'rgba(42,120,142,0.66)', 'rgba(58,88,140,0.68)', 'rgba(49,104,142,0.68)', 'rgba(62,74,137,0.68)',
];
const greenPalette = ['rgba(94,201,98,0.72)', 'rgba(122,209,81,0.72)', 'rgba(74,193,109,0.7)'];
const yellowPalette = ['rgba(253,231,37,0.82)', 'rgba(216,226,25,0.82)'];
const darkPalette = ['rgba(72,40,120,0.7)', 'rgba(65,68,135,0.72)'];

// canvas boxes in page pixels; plot areas line up across the 2x2 grid
const frames = [
  { left: 0, top: 0, width: 291, height: 218, right: 2, yw: 39, xh: 5, showX: false, showY: true },
  { left: 291, top: 0, width: 259, height: 218, right: 3, yw: 6.5, xh: 5, showX: false, showY: false },
  { left: 0, top: 222, width: 291, height: 234, right: 2, yw: 39, xh: 22, showX: true, showY: true },
  { left: 291, top: 222, width: 259, height: 234, right: 3, yw: 6.5, xh: 22, showX: true, showY: false },
];

const fmt = (v: number | string) => String(v).replace('-', '\u2212');
const toPts = (list: Pt[]) => list.map(([x, y]) => ({ x, y }));
const fromRows = (rows: Row[]) => rows.flatMap(([y, xs]) => xs.map((x) => ({ x, y })));

function decor(i: number) {
  return {
    id: 'decor' + i,
    beforeDatasetsDraw(chart: any) {
      const { ctx, chartArea: a, scales } = chart;
      const px = scales.x.getPixelForValue(0);
      const py = scales.y.getPixelForValue(0);
      ctx.save();
      ctx.strokeStyle = '#777';
      ctx.lineWidth = 0.7;
      ctx.setLineDash([2, 1.5]);
      ctx.beginPath();
      ctx.moveTo(px, a.top);
      ctx.lineTo(px, a.bottom);
      ctx.moveTo(a.left, py);
      ctx.lineTo(a.right, py);
      ctx.stroke();
      ctx.restore();
    },
    afterDraw(chart: any) {
      const { ctx, chartArea: a } = chart;
      ctx.save();
      ctx.strokeStyle = '#3a3a3a';
      ctx.lineWidth = 0.9;
      ctx.strokeRect(a.left, a.top, a.right - a.left, a.bottom - a.top);

      ctx.fillStyle = '#222';
      ctx.font = `6.5px "${FONT}"`;
      ctx.textAlign = 'center';
      ctx.textBaseline = 'middle';
      const cx = (a.left + a.right) / 2;
      ctx.fillText(seasons[i], cx, a.top - 13);
      ctx.fillText(`N=${counts[i]}`, cx, a.top - 4.7);

      const lines = [`Slope=${slopes[i].toFixed(2)}`, `R\u00b2=${rSquared[i]}`, `p=${pLabels[i]}`];
      ctx.font = `5px "${FONT}"`;
      const w = Math.max(...lines.map((l) => ctx.measureText(l).width)) + 4.5;
      const bx = a.left + 4.5;
      const by = a.top + 3;
      ctx.beginPath();
      ctx.roundRect(bx, by, w, 18.5, 1.5);
      ctx.fillStyle = 'rgba(245,222,179,0.9)';
      ctx.fill();
      ctx.strokeStyle = '#555';
      ctx.lineWidth = 0.6;
      ctx.stroke();
      ctx.fillStyle = '#111';
      ctx.textAlign = 'left';
      lines.forEach((l, k) => ctx.fillText(l, bx + 2.3, by + 4 + k * 5.2));
      ctx.restore();
    },
  };
}

function SeasonPanel({ index }: { index: number }) {
  const canvasRef = useRef<HTMLCanvasElement | null>(null);
  const chartRef = useRef<Chart | null>(null);
  const f = frames[index];

  useEffect(() => {
    if (!canvasRef.current) return;
    if (chartRef.current) chartRef.current.destroy();

    const [x0, x1] = fitSpans[index];
    const fit = [x0, x1].map((x) => ({ x, y: slopes[index] * x + intercepts[index] }));
    const tickFont = { family: FONT, size: 6 };
    const dot = { borderColor: 'rgba(255,255,255,0.8)', borderWidth: 0.4, pointRadius: 2.35 };

    chartRef.current = new Chart(canvasRef.current, {
      type: 'scatter',
      data: {
        datasets: [
          {
            data: fit,
            showLine: true,
            borderColor: '#ff0000',
            borderWidth: 1.3,
            pointRadius: 0,
          },
          {
            ...dot,
            data: toPts(darkPts[index]),
            backgroundColor: (c: any) => darkPalette[c.dataIndex % darkPalette.length],
          },
          {
            ...dot,
            data: toPts(yellowPts[index]),
            backgroundColor: (c: any) => yellowPalette[c.dataIndex % yellowPalette.length],
          },
          {
            ...dot,
            data: toPts(greenPts[index]),
            backgroundColor: (c: any) => greenPalette[c.dataIndex % greenPalette.length],
          },
          {
            ...dot,
            data: fromRows([...blueRows[index], ...fillRows[index]]),
            backgroundColor: (c: any) => bluePalette[c.dataIndex % bluePalette.length],
          },
        ],
      },
      options: {
        responsive: false,
        animation: false,
        events: [],
        layout: { padding: { left: 0, top: 18, right: f.right, bottom: 0 } },
        plugins: {
          legend: { display: false },
          tooltip: { enabled: false },
          title: { display: false },
        },
        scales: {
          x: {
            type: 'linear',
            min: xRange[0],
            max: xRange[1],
            afterBuildTicks: (s: any) => {
              s.ticks = xTicks.map((value) => ({ value }));
            },
            afterFit: (s: any) => {
              s.height = f.xh;
            },
            ticks: {
              display: f.showX,
              font: tickFont,
              color: '#222',
              padding: 0,
              maxRotation: 0,
              autoSkip: false,
              callback: (v: any) => fmt(v),
            },
            grid: {
              color: 'rgba(0,0,0,0.08)',
              lineWidth: 0.6,
              tickLength: 3,
              tickColor: '#333',
              tickWidth: 0.8,
            },
            border: { display: false },
            title: {
              display: f.showX,
              text: '\u0394WTE (ft)',
              font: tickFont,
              color: '#222',
              padding: { top: 0, bottom: 4.4 },
            },
          },
          y: {
            type: 'linear',
            min: yRange[0],
            max: yRange[1],
            afterBuildTicks: (s: any) => {
              s.ticks = yTicks.map((value) => ({ value }));
            },
            afterFit: (s: any) => {
              s.width = f.yw;
            },
            ticks: {
              display: f.showY,
              font: tickFont,
              color: '#222',
              padding: 3,
              autoSkip: false,
              callback: (v: any) => fmt(v),
            },
            grid: {
              color: 'rgba(0,0,0,0.08)',
              lineWidth: 0.6,
              tickLength: 3,
              tickColor: '#333',
              tickWidth: 0.8,
            },
            border: { display: false },
            title: {
              display: f.showY,
              text: '\u0394Q (cfs)',
              font: tickFont,
              color: '#222',
              padding: { top: 2.9, bottom: 0 },
            },
          },
        },
      },
      plugins: [decor(index)],
    } as any);

    return () => {
      if (chartRef.current) {
        chartRef.current.destroy();
        chartRef.current = null;
      }
    };
  }, [index]);

  return (
    <canvas
      ref={canvasRef}
      width={f.width}
      height={f.height}
      style={{ position: 'absolute', left: f.left, top: f.top, width: f.width, height: f.height }}
    />
  );
}

export default function App() {
  return (
    <div style={{ position: 'fixed', left: 0, top: 0, width: 550, height: 456, background: '#fff' }}>
      {seasons.map((s, i) => (
        <SeasonPanel key={s} index={i} />
      ))}
    </div>
  );
}
